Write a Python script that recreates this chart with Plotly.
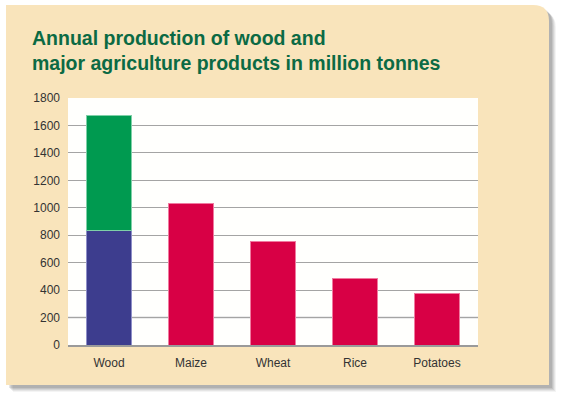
import plotly.graph_objects as go

categories = ["Wood", "Maize", "Wheat", "Rice", "Potatoes"]
wood_part1 = [831]          # blue lower segment of Wood
wood_part2 = [838]          # green upper segment of Wood
crop_values = [1033, 756, 486, 377]
y_ticks = [0, 200, 400, 600, 800, 1000, 1200, 1400, 1600, 1800]

W, H = 563, 398
L, R, T, B = 68, 478, 98, 345  # plot area pixels

def px(x):
    return (x - L) / (R - L)

def py(y):
    return (B - y) / (B - T)

fig = go.Figure()
fig.add_trace(go.Bar(x=categories[:1], y=wood_part1, marker=dict(color="#3d3d8e", line=dict(color="#8f8fc8", width=1)), showlegend=False))
fig.add_trace(go.Bar(x=categories[:1], y=wood_part2, marker=dict(color="#009a50", line=dict(color="#7fd0a8", width=1)), showlegend=False))
fig.add_trace(go.Bar(x=categories[1:], y=crop_values, marker=dict(color="#d80045", line=dict(color="#f07aa0", width=1)), showlegend=False))

def rounded_panel(x0, y0, x1, y1, r):
    # pixel coordinates -> paper; only top-right corner rounded
    return (f"M {px(x0)},{py(y0)} L {px(x1 - r)},{py(y0)} Q {px(x1)},{py(y0)} {px(x1)},{py(y0 + r)} "
            f"L {px(x1)},{py(y1)} L {px(x0)},{py(y1)} Z")

shapes = []
# soft shadow
for off, op in [(7, 0.06), (6, 0.08), (5, 0.10), (4, 0.12), (3, 0.14)]:
    shapes.append(dict(type="path", xref="paper", yref="paper",
                       path=rounded_panel(6 + off, 5 + off, 549 + off, 385 + off, 16),
                       fillcolor=f"rgba(70,70,70,{op})", line=dict(width=0), layer="below"))
shapes.append(dict(type="path", xref="paper", yref="paper",
                   path=rounded_panel(6, 5, 549, 385, 16),
                   fillcolor="#f9e4bb", line=dict(width=0), layer="below"))
shapes.append(dict(type="rect", xref="paper", yref="paper", x0=0, x1=1, y0=0, y1=1,
                   fillcolor="#fffffd", line=dict(width=0), layer="below"))
# lighter 200 gridline as in the reference
shapes.append(dict(type="line", xref="paper", yref="y", x0=0, x1=1, y0=200, y1=200,
                   line=dict(color="#ececec", width=3), layer="between"))

FONT = "Liberation Sans, Arial, sans-serif"

fig.update_layout(
    width=W, height=H,
    margin=dict(l=L, r=W - R, t=T, b=H - B, pad=0),
    paper_bgcolor="white",
    plot_bgcolor="rgba(0,0,0,0)",
    barmode="stack",
    bargap=0.44,
    shapes=shapes,
    font=dict(family=FONT, size=12, color="#333333"),
    xaxis=dict(showgrid=False, showline=True, linecolor="#9a9a9a", linewidth=1.5,
               ticks="", tickfont=dict(size=12, color="#333333"), ticklabelstandoff=6),
    yaxis=dict(range=[0, 1800], tickvals=y_ticks, showgrid=True, gridcolor="#a4a4a4", gridwidth=1.3,
               zeroline=False, showline=False, ticks="", tickfont=dict(size=12, color="#333333"),
               ticklabelstandoff=7),
    annotations=[dict(
        text="<b>Annual production of wood and<br>major agriculture products in million tonnes</b>",
        xref="paper", yref="paper", x=px(30), y=py(25), xanchor="left", yanchor="top",
        align="left", showarrow=False,
        font=dict(family=FONT, size=19.5, color="#0b6a44"),
    )],
)

fig.write_html("out.html", config={"displayModeBar": False},
               post_script="document.body.style.margin='0';document.body.style.padding='0';")
